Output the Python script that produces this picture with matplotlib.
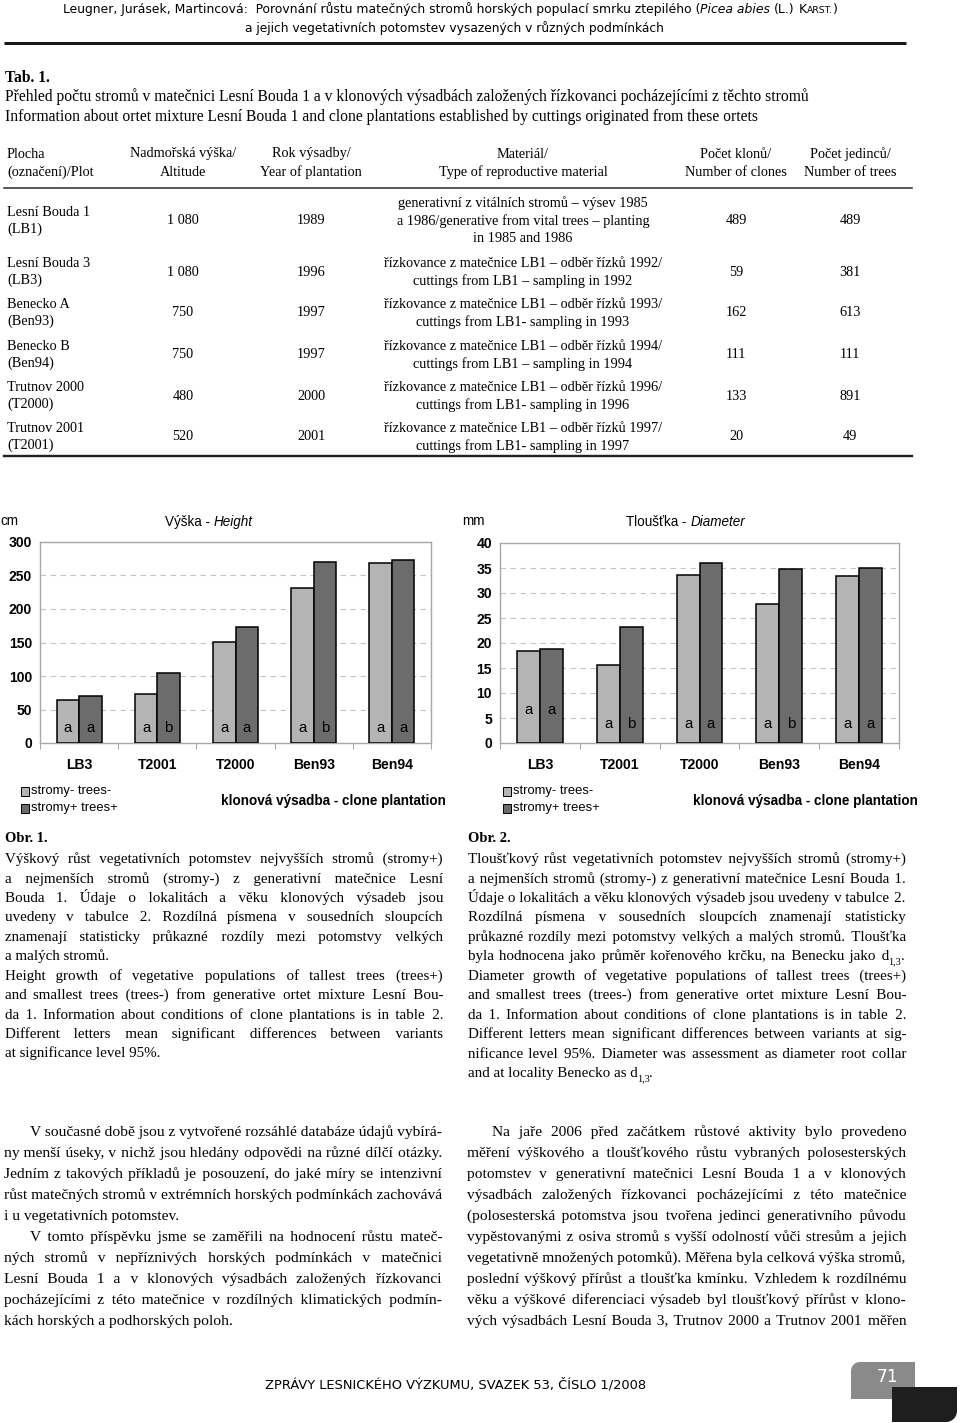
import re
import matplotlib
matplotlib.use("Agg")
import matplotlib.pyplot as plt
from matplotlib.patches import Rectangle, Polygon
import numpy as np

SERIF = ['Liberation Serif', 'DejaVu Serif']
SANS = 'Liberation Sans'
HEAD = 'DejaVu Sans'
HAIR = "\u200a"
SUB_RE = re.compile(r"^(.*)\$_\{(.+?)\}\$(.*)$")

# =========================================================
# Data
# =========================================================
sites = ["LB3", "T2001", "T2000", "Ben93", "Ben94"]
height_minus = [64, 73, 151, 231, 268]
height_plus = [70, 104, 173, 270, 273]
diam_minus = [18.5, 15.6, 33.7, 27.8, 33.4]
diam_plus = [18.9, 23.2, 36.0, 34.9, 35.1]
height_letters = [("a", "a"), ("a", "b"), ("a", "a"), ("a", "b"), ("a", "a")]
diam_letters = [("a", "a"), ("a", "b"), ("a", "a"), ("a", "b"), ("a", "a")]

plot_names = ["Lesní Bouda 1", "Lesní Bouda 3", "Benecko A", "Benecko B",
              "Trutnov 2000", "Trutnov 2001"]
plot_codes = ["(LB1)", "(LB3)", "(Ben93)", "(Ben94)", "(T2000)", "(T2001)"]
altitudes = ["1 080", "1 080", "750", "750", "480", "520"]
years = ["1989", "1996", "1997", "1997", "2000", "2001"]
materials = [
    ["generativní z vitálních stromů – výsev 1985",
     "a 1986/generative from vital trees – planting",
     "in 1985 and 1986"],
    ["řízkovance z matečnice LB1 – odběr řízků 1992/",
     "cuttings from LB1 – sampling in 1992"],
    ["řízkovance z matečnice LB1 – odběr řízků 1993/",
     "cuttings from LB1- sampling in 1993"],
    ["řízkovance z matečnice LB1 – odběr řízků 1994/",
     "cuttings from LB1 – sampling in 1994"],
    ["řízkovance z matečnice LB1 – odběr řízků 1996/",
     "cuttings from LB1- sampling in 1996"],
    ["řízkovance z matečnice LB1 – odběr řízků 1997/",
     "cuttings from LB1- sampling in 1997"],
]
n_clones = ["489", "59", "162", "111", "133", "20"]
n_trees = ["489", "381", "613", "111", "891", "49"]

caption1 = [
    "Výškový růst vegetativních potomstev nejvyšších stromů (stromy+)",
    "a nejmenších stromů (stromy-) z generativní matečnice Lesní",
    "Bouda 1. Údaje o lokalitách a věku klonových výsadeb jsou",
    "uvedeny v tabulce 2. Rozdílná písmena v sousedních sloupcích",
    "znamenají statisticky průkazné rozdíly mezi potomstvy velkých",
    "a malých stromů.",
    "Height growth of vegetative populations of tallest trees (trees+)",
    "and smallest trees (trees-) from generative ortet mixture Lesní Bou-",
    "da 1. Information about conditions of clone plantations is in table 2.",
    "Different letters mean significant differences between variants",
    "at significance level 95%.",
]
caption2 = [
    "Tloušťkový růst vegetativních potomstev nejvyšších stromů (stromy+)",
    "a nejmenších stromů (stromy-) z generativní matečnice Lesní Bouda 1.",
    "Údaje o lokalitách a věku klonových výsadeb jsou uvedeny v tabulce 2.",
    "Rozdílná písmena v sousedních sloupcích znamenají statisticky",
    "průkazné rozdíly mezi potomstvy velkých a malých stromů. Tloušťka",
    "byla hodnocena jako průměr kořenového krčku, na Benecku jako d$_{1,3}$.",
    "Diameter growth of vegetative populations of tallest trees (trees+)",
    "and smallest trees (trees-) from generative ortet mixture Lesní Bou-",
    "da 1. Information about conditions of clone plantations is in table 2.",
    "Different letters mean significant differences between variants at sig-",
    "nificance level 95%. Diameter was assessment as diameter root collar",
    "and at locality Benecko as d$_{1,3}$.",
]
body_left = [
    "V současné době jsou z vytvořené rozsáhlé databáze údajů vybírá-",
    "ny menší úseky, v nichž jsou hledány odpovědi na různé dílčí otázky.",
    "Jedním z takových příkladů je posouzení, do jaké míry se intenzivní",
    "růst matečných stromů v extrémních horských podmínkách zachovává",
    "i u vegetativních potomstev.",
    "V tomto příspěvku jsme se zaměřili na hodnocení růstu mateč-",
    "ných stromů v nepříznivých horských podmínkách v matečnici",
    "Lesní Bouda 1 a v klonových výsadbách založených řízkovanci",
    "pocházejícími z této matečnice v rozdílných klimatických podmín-",
    "kách horských a podhorských poloh.",
]
body_right = [
    "Na jaře 2006 před začátkem růstové aktivity bylo provedeno",
    "měření výškového a tloušťkového růstu vybraných polosesterských",
    "potomstev v generativní matečnici Lesní Bouda 1 a v klonových",
    "výsadbách založených řízkovanci pocházejícími z této matečnice",
    "(polosesterská potomstva jsou tvořena jedinci generativního původu",
    "vypěstovanými z osiva stromů s vyšší odolností vůči stresům a jejich",
    "vegetativně množených potomků). Měřena byla celková výška stromů,",
    "poslední výškový přírůst a tloušťka kmínku. Vzhledem k rozdílnému",
    "věku a výškové diferenciaci výsadeb byl tloušťkový přírůst v klono-",
    "vých výsadbách Lesní Bouda 3, Trutnov 2000 a Trutnov 2001 měřen",
]

W, H = 960, 1423
fig = plt.figure(figsize=(W / 100, H / 100), dpi=100)
fig.patch.set_facecolor("white")
page = fig.add_axes([0, 0, 1, 1], zorder=5)
page.set_xlim(0, W)
page.set_ylim(H, 0)
page.axis("off")
page.patch.set_alpha(0)
renderer = fig.canvas.get_renderer()


def pt(px):
    return px * 0.72


def width_of(t):
    return t.get_window_extent(renderer).width


def str_width(s, size, family, weight="normal"):
    if not s:
        return 0.0
    t = page.text(0, 0, s, fontsize=size, family=family, weight=weight)
    w = width_of(t)
    t.remove()
    return w


def space_width(size, family, weight="normal"):
    return str_width("a a", size, family, weight) - str_width("aa", size, family, weight)


# =========================================================
# Justified text: one Text per line, gaps widened with hair spaces
# =========================================================
def build_line(words, counts):
    s = words[0]
    for w, c in zip(words[1:], counts):
        s += " " + HAIR * c + w
    return s


def split_sub(ln):
    m = SUB_RE.match(ln)
    if m:
        return m.group(1), m.group(2), m.group(3)
    return ln, "", ""


def text_block(lines, x0, x1, y0, dy, base, last=(), indent=None, family=SERIF):
    ind_px, ind_lines = indent if indent else (0, ())
    ratio = 1.0
    for i, ln in enumerate(lines):
        if i in last:
            continue
        main, sub, post = split_sub(ln)
        left = x0 + (ind_px if i in ind_lines else 0)
        need = (str_width(main, base, family) + str_width(sub, base * 0.68, family)
                + str_width(post, base, family))
        ratio = min(ratio, (x1 - left) / need)
    size = base * ratio * 0.998
    hw = str_width("a" + HAIR * 10 + "a", size, family) - str_width("aa", size, family)
    hw /= 10.0
    for i, ln in enumerate(lines):
        main, sub, post = split_sub(ln)
        left = x0 + (ind_px if i in ind_lines else 0)
        right = x1 - str_width(sub, size * 0.68, family) - str_width(post, size, family)
        y = y0 + i * dy
        words = main.split(" ")
        if i in last or len(words) == 1:
            t = page.text(left, y, main, fontsize=size, family=family, va="baseline")
        else:
            gaps = len(words) - 1
            extra = (right - left) - str_width(main, size, family)
            n = max(0, int(round(extra / hw)))
            counts = [(k + 1) * n // gaps - k * n // gaps for k in range(gaps)]
            t = page.text(left, y, build_line(words, counts), fontsize=size,
                          family=family, va="baseline")
            # one correction pass so that the right edge lands on the margin
            fix = int(round(((right - left) - width_of(t)) / hw))
            if fix != 0:
                n = max(0, n + fix)
                counts = [(k + 1) * n // gaps - k * n // gaps for k in range(gaps)]
                t.set_text(build_line(words, counts))
        if sub:
            xe = left + width_of(t) - 1.0
            ts = page.text(xe, y + 0.3 * size / 0.72, sub, fontsize=size * 0.68,
                           family=family, va="baseline")
            page.text(xe + width_of(ts), y, post, fontsize=size, family=family,
                      va="baseline")
    return size


def pieces_line(parts, x0, x1, y, base, family):
    # parts: (text, style, scale, spaces before)
    texts = []
    for s, style, scale, spb in parts:
        texts.append(page.text(0, y, s, fontsize=base * scale, family=family,
                               style=style, va="baseline"))
    sp = space_width(base, family)
    total = sum(width_of(t) for t in texts) + sp * sum(p[3] for p in parts)
    k = (x1 - x0) / total
    for t, p in zip(texts, parts):
        t.set_fontsize(base * p[2] * k)
    sp = space_width(base * k, family)
    x = x0
    for t, p in zip(texts, parts):
        x += sp * p[3]
        t.set_x(x)
        x += width_of(t)


# =========================================================
# Running header
# =========================================================
pieces_line([
    ("Leugner, Jurásek, Martincová:  Porovnání růstu matečných stromů horských "
     "populací smrku ztepilého (", "normal", 1.0, 0),
    ("Picea abies", "italic", 1.0, 0),
    ("(L.)", "normal", 1.0, 1),
    ("K", "normal", 1.0, 1),
    ("ARST.", "normal", 0.75, 0),
    (")", "normal", 1.0, 0),
], 63, 847, 13, 9.5, HEAD)
pieces_line([("a jejich vegetativních potomstev vysazených v různých podmínkách",
              "normal", 1.0, 0)], 245, 668, 32, 9.5, HEAD)
page.plot([4, 906], [43, 43], color="#1a1a1a", lw=pt(3), solid_capstyle="butt")

# =========================================================
# Table 1
# =========================================================
fs_tab = pt(14.2)
fs_intro = pt(15.6)
page.text(5, 78, "Tab. 1.", fontsize=fs_intro, family=SERIF, weight="bold", va="center")
page.text(5, 97, "Přehled počtu stromů v matečnici Lesní Bouda 1 a v klonových výsadbách "
          "založených řízkovanci pocházejícími z těchto stromů",
          fontsize=fs_intro, family=SERIF, va="center")
page.text(5, 117, "Information about ortet mixture Lesní Bouda 1 and clone plantations "
          "established by cuttings originated from these ortets",
          fontsize=fs_intro, family=SERIF, va="center")

col_x = [7, 183, 311, 523, 736, 850]
head1 = ["Plocha", "Nadmořská výška/", "Rok výsadby/", "Materiál/", "Počet klonů/",
         "Počet jedinců/"]
head2 = ["(označení)/Plot", "Altitude", "Year of plantation",
         "Type of reproductive material", "Number of clones", "Number of trees"]
for j, (h1, h2) in enumerate(zip(head1, head2)):
    ha = "left" if j == 0 else "center"
    page.text(col_x[j], 154, h1, fontsize=fs_tab, family=SERIF, ha=ha, va="center")
    page.text(col_x[j], 172, h2, fontsize=fs_tab, family=SERIF, ha=ha, va="center")
page.plot([4, 912], [188, 188], color="#333333", lw=pt(1.6))

row_y = [221, 272, 313, 355, 396, 437]
for i, yc in enumerate(row_y):
    page.text(col_x[0], yc - 8.7, plot_names[i], fontsize=fs_tab, family=SERIF, va="center")
    page.text(col_x[0], yc + 8.7, plot_codes[i], fontsize=fs_tab, family=SERIF, va="center")
    page.text(col_x[1], yc, altitudes[i], fontsize=fs_tab, family=SERIF, ha="center", va="center")
    page.text(col_x[2], yc, years[i], fontsize=fs_tab, family=SERIF, ha="center", va="center")
    m = materials[i]
    for k, ln in enumerate(m):
        page.text(col_x[3], yc + (k - (len(m) - 1) / 2) * 17.5, ln, fontsize=fs_tab,
                  family=SERIF, ha="center", va="center")
    page.text(col_x[4], yc, n_clones[i], fontsize=fs_tab, family=SERIF, ha="center", va="center")
    page.text(col_x[5], yc, n_trees[i], fontsize=fs_tab, family=SERIF, ha="center", va="center")
page.plot([4, 912], [456, 456], color="#222222", lw=pt(2.4))


# =========================================================
# Bar charts
# =========================================================
LIGHT = "#b4b4b4"
DARK = "#6c6c6c"


def px_rect(x0, y0, x1, y1):
    return [x0 / W, 1 - y1 / H, (x1 - x0) / W, (y1 - y0) / H]


def bar_chart(rect, minus, plus, letters, letter_y, ymax, step):
    ax = fig.add_axes(rect)
    x = np.arange(len(sites))
    bw = 0.288
    ax.bar(x - bw / 2, minus, bw, color=LIGHT, edgecolor="black", lw=1.1, zorder=3)
    ax.bar(x + bw / 2, plus, bw, color=DARK, edgecolor="black", lw=1.1, zorder=3)
    for i, (la, lb) in enumerate(letters):
        ax.text(i - bw / 2, letter_y[i], la, ha="center", va="center",
                fontsize=pt(15), family=SANS, zorder=4)
        ax.text(i + bw / 2, letter_y[i], lb, ha="center", va="center",
                fontsize=pt(15), family=SANS, zorder=4)
    ax.set_xlim(-0.5, len(sites) - 0.5)
    ax.set_ylim(0, ymax)
    ax.set_yticks(np.arange(0, ymax + step, step))
    for v in np.arange(step, ymax, step):
        ax.axhline(v, color="#c4c4c4", lw=0.8, ls=(0, (5, 4)), zorder=1)
    ax.set_xticks(x)
    ax.set_xticklabels(sites, fontsize=pt(14), family=SANS, weight="bold")
    ax.set_xticks(np.arange(-0.5, len(sites), 1), minor=True)
    ax.tick_params(axis="x", which="major", length=0, pad=pt(15))
    ax.tick_params(axis="x", which="minor", length=4, color="#999999", direction="out")
    ax.tick_params(axis="y", length=0, pad=pt(8))
    for lab in ax.get_yticklabels():
        lab.set_fontsize(pt(14))
        lab.set_family(SANS)
        lab.set_weight("bold")
    for s in ax.spines.values():
        s.set_color("#a8a8a8")
        s.set_linewidth(1.0)
    return ax


bar_chart(px_rect(40, 542, 431, 743), height_minus, height_plus, height_letters,
          [23] * 5, 300, 50)
bar_chart(px_rect(500, 543, 899, 743), diam_minus, diam_plus, diam_letters,
          [6.6, 3.9, 3.9, 3.9, 3.9], 40, 5)

fs_ch = pt(13.5)
page.text(0, 521, "cm", fontsize=fs_ch, family=SANS, va="center")
page.text(462, 521, "mm", fontsize=fs_ch, family=SANS, va="center")
for cx, cz, en in [(209, "Výška -", "Height"), (686, "Tloušťka -", "Diameter")]:
    t1 = page.text(0, 522, cz, fontsize=fs_ch, family=SANS, va="center")
    t2 = page.text(0, 522, en, fontsize=fs_ch, family=SANS, style="italic", va="center")
    sp = space_width(fs_ch, SANS)
    w1, w2 = width_of(t1), width_of(t2)
    x0 = cx - (w1 + sp + w2) / 2
    t1.set_x(x0)
    t2.set_x(x0 + w1 + sp)

for lx, cx in [(21, 333), (503, 805)]:
    for k, (lab, col) in enumerate([("stromy- trees-", LIGHT), ("stromy+ trees+", DARK)]):
        yc = 791 + k * 17
        page.add_patch(Rectangle((lx, yc - 4.5), 7.5, 9, facecolor=col,
                                 edgecolor="black", lw=0.7))
        page.text(lx + 10, yc, lab, fontsize=pt(13), family=SANS, va="center")
    page.text(cx, 801, "klonová výsadba - clone plantation", fontsize=pt(13.5),
              family=SANS, weight="bold", ha="center", va="center")

# =========================================================
# Figure captions
# =========================================================
page.text(5, 838, "Obr. 1.", fontsize=pt(14.5), family=SERIF, weight="bold", va="center")
page.text(468, 838, "Obr. 2.", fontsize=pt(14.5), family=SERIF, weight="bold", va="center")
text_block(caption1, 5, 443, 863, 19.45, pt(15), last=(5, 10))
text_block(caption2, 468, 906, 863, 19.45, pt(15), last=(11,))

# =========================================================
# Body text
# =========================================================
text_block(body_left, 4, 442, 1136, 21, pt(15.5), last=(4, 9), indent=(26, (0, 5)))
text_block(body_right, 467, 906, 1136, 21, pt(15.5), indent=(25, (0,)))

# =========================================================
# Footer
# =========================================================
pieces_line([("ZPRÁVY LESNICKÉHO VÝZKUMU, SVAZEK 53, ČÍSLO 1/2008", "normal", 1.0, 0)],
            265, 644, 1388, 10, HEAD)


def rounded_box(x0, y0, x1, y1, corner, r, color):
    ang = np.linspace(0, np.pi / 2, 12)
    pts = []
    if corner == "tl":
        pts += [(x1, y0), (x1, y1), (x0, y1)]
        pts += [(x0 + r - r * np.cos(a), y0 + r - r * np.sin(a)) for a in ang]
    else:
        pts += [(x0, y0), (x1, y0)]
        pts += [(x1 - r + r * np.cos(a), y1 - r + r * np.sin(a)) for a in ang]
        pts += [(x0, y1)]
    page.add_patch(Polygon(pts, closed=True, facecolor=color, edgecolor="none"))


rounded_box(851, 1362, 915, 1399, "tl", 9, "#8a8a8a")
rounded_box(892, 1387, 957, 1422, "br", 11, "#1e1e1e")
page.text(887, 1377, "71", fontsize=pt(17), family=HEAD, color="white",
          ha="center", va="center")

fig.savefig("out.png", dpi=100, facecolor="white")
